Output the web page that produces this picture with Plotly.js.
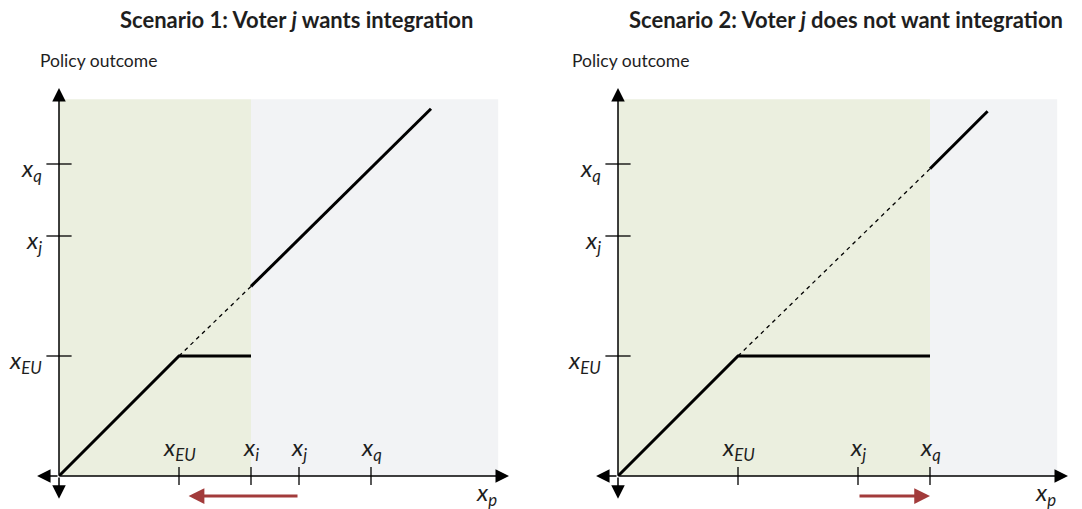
<!DOCTYPE html>
<html>
<head>
<meta charset="utf-8">
<script src="https://cdn.plot.ly/plotly-3.0.1.min.js"></script>
<style>html,body{margin:0;padding:0;background:#fff;}#chart{width:1082px;height:509px;}</style>
</head>
<body>
<div id="chart"></div>
<script>
// ---------- data (in policy units) ----------
const panelTitles = ['Scenario 1: Voter <i>j</i> wants integration', 'Scenario 2: Voter <i>j</i> does not want integration'];
const yAxisTitle = 'Policy outcome';
const xAxisTitle = 'p';

const s1XTickVals = [1.0, 1.6, 2.0, 2.6];
const s1XTickText = ['EU', 'i', 'j', 'q'];
const s2XTickVals = [1.0, 2.0, 2.6];
const s2XTickText = ['EU', 'j', 'q'];
const yTickVals = [1.0, 2.0, 2.6];
const yTickText = ['EU', 'j', 'q'];

// Scenario 1 outcome curve
const s1LowX = [0, 1.0, 1.6];
const s1LowY = [0, 1.0, 1.0];
const s1DashX = [1.0, 1.6];
const s1DashY = [1.0, 1.58];
const s1HighX = [1.6, 3.1];
const s1HighY = [1.58, 3.06];
// Scenario 2 outcome curve
const s2LowX = [0, 1.0, 2.6];
const s2LowY = [0, 1.0, 1.0];
const s2DashX = [1.0, 2.6];
const s2DashY = [1.0, 2.56];
const s2HighX = [2.6, 3.08];
const s2HighY = [2.56, 3.04];

// shaded regions [x0, x1]
const s1Green = [0, 1.6];
const s1Gray = [1.6, 3.66];
const s2Green = [0, 2.6];
const s2Gray = [2.6, 3.66];
const shadeTop = 3.14;

// red movement arrows [from, to]
const s1Move = [2.0, 1.08];
const s2Move = [2.0, 2.6];
const moveLevel = -0.167;

// axis extents
const axisRight = 3.75, axisLeft = -0.183, axisTop = 3.233, axisBottom = -0.19;
const xNamePos = 3.56;

// ---------- layout helpers ----------
const W = 1082, H = 509, PX = 120;          // pixels per unit
const originY = 476;
const o1 = 59, o2 = 618;
const range1 = [-o1 / PX, (W / 2 - o1) / PX];
const range2 = [-(o2 - W / 2) / PX, (W - o2) / PX];
const rangeY = [-(H - originY) / PX, originY / PX];

const FONT = 'Lato, "Open Sans", sans-serif';
const TXT = '#1e1e1e';
const sub = s => '<i>x</i><sub><i>' + s + '</i></sub>';

const traces = [];
const shapes = [];
const annotations = [];

function panel(xa, lows, dash, highs, green, gray, xtv, xtt, move) {
  const xr = xa === 'x' ? 'x' : 'x2';
  shapes.push({type: 'rect', xref: xr, yref: 'y', x0: green[0], x1: green[1], y0: 0, y1: shadeTop,
    fillcolor: '#ebefdf', line: {width: 0}, layer: 'below'});
  shapes.push({type: 'rect', xref: xr, yref: 'y', x0: gray[0], x1: gray[1], y0: 0, y1: shadeTop,
    fillcolor: '#f2f3f5', line: {width: 0}, layer: 'below'});
  // outcome curves
  traces.push({x: lows[0], y: lows[1], xaxis: xa, yaxis: 'y', mode: 'lines', line: {color: '#000', width: 3}, hoverinfo: 'skip'});
  traces.push({x: dash[0], y: dash[1], xaxis: xa, yaxis: 'y', mode: 'lines', line: {color: '#000', width: 1.3, dash: '4px,4px'}, hoverinfo: 'skip'});
  traces.push({x: highs[0], y: highs[1], xaxis: xa, yaxis: 'y', mode: 'lines', line: {color: '#000', width: 3}, hoverinfo: 'skip'});
  // ticks
  traces.push({x: xtv, y: xtv.map(() => 0), xaxis: xa, yaxis: 'y', mode: 'markers',
    marker: {symbol: 'line-ns-open', size: 13, color: '#000', line: {color: '#000', width: 1.3}}, hoverinfo: 'skip'});
  traces.push({x: yTickVals.map(() => 0), y: yTickVals, xaxis: xa, yaxis: 'y', mode: 'markers',
    marker: {symbol: 'line-ew-open', size: 18, color: '#000', line: {color: '#000', width: 1.3}}, hoverinfo: 'skip'});
  // axis arrows
  const ax = (tx, ty) => ({xref: xr, yref: 'y', axref: xr, ayref: 'y', x: tx, y: ty, ax: 0, ay: 0,
    text: '', showarrow: true, arrowhead: 2, arrowsize: 1.8, arrowwidth: 1.5, arrowcolor: '#000'});
  annotations.push(ax(axisRight, 0), ax(axisLeft, 0), ax(0, axisTop), ax(0, axisBottom));
  // movement arrow
  annotations.push({xref: xr, yref: 'y', axref: xr, ayref: 'y', x: move[1], y: moveLevel, ax: move[0], ay: moveLevel,
    text: '', showarrow: true, arrowhead: 2, arrowsize: 1.05, arrowwidth: 3, arrowcolor: '#a23b3b'});
  // tick labels
  xtv.forEach((v, i) => annotations.push({xref: xr, yref: 'y', x: v, y: 0, yanchor: 'bottom', xanchor: 'center',
    yshift: 9, text: sub(xtt[i]), showarrow: false, font: {family: FONT, size: 24, color: TXT}}));
  yTickVals.forEach((v, i) => annotations.push({xref: xr, yref: 'y', x: 0, y: v, xanchor: 'right', yanchor: 'middle',
    xshift: -15, yshift: -5, text: sub(yTickText[i]), showarrow: false, font: {family: FONT, size: 24, color: TXT}}));
  // x-axis name
  annotations.push({xref: xr, yref: 'y', x: xNamePos, y: 0, yanchor: 'top', xanchor: 'center', yshift: 1,
    text: sub(xAxisTitle), showarrow: false, font: {family: FONT, size: 24, color: TXT}});
}

panel('x', [s1LowX, s1LowY], [s1DashX, s1DashY], [s1HighX, s1HighY], s1Green, s1Gray, s1XTickVals, s1XTickText, s1Move);
panel('x2', [s2LowX, s2LowY], [s2DashX, s2DashY], [s2HighX, s2HighY], s2Green, s2Gray, s2XTickVals, s2XTickText, s2Move);

// titles and y-axis names
[296, 846].forEach((cx, i) => annotations.push({xref: 'paper', yref: 'paper', x: cx / W, y: 1 - 20 / H,
  xanchor: 'center', yanchor: 'middle', text: '<b>' + panelTitles[i] + '</b>', showarrow: false,
  font: {family: FONT, size: 22, color: TXT}}));
[38, 570].forEach(lx => annotations.push({xref: 'paper', yref: 'paper', x: lx / W, y: 1 - 60 / H,
  xanchor: 'left', yanchor: 'middle', text: yAxisTitle, showarrow: false,
  font: {family: FONT, size: 17.5, color: TXT}}));

const hidden = {visible: false, fixedrange: true, showgrid: false, zeroline: false};
const layout = {
  width: W, height: H,
  margin: {l: 0, r: 0, t: 0, b: 0, pad: 0},
  paper_bgcolor: '#fff', plot_bgcolor: 'rgba(0,0,0,0)',
  showlegend: false,
  xaxis: Object.assign({domain: [0, 0.5], range: range1, anchor: 'y'}, hidden),
  xaxis2: Object.assign({domain: [0.5, 1], range: range2, anchor: 'y'}, hidden),
  yaxis: Object.assign({domain: [0, 1], range: rangeY, anchor: 'x'}, hidden),
  shapes: shapes,
  annotations: annotations
};
Plotly.newPlot('chart', traces, layout, {displayModeBar: false, staticPlot: true});
</script>
</body>
</html>
